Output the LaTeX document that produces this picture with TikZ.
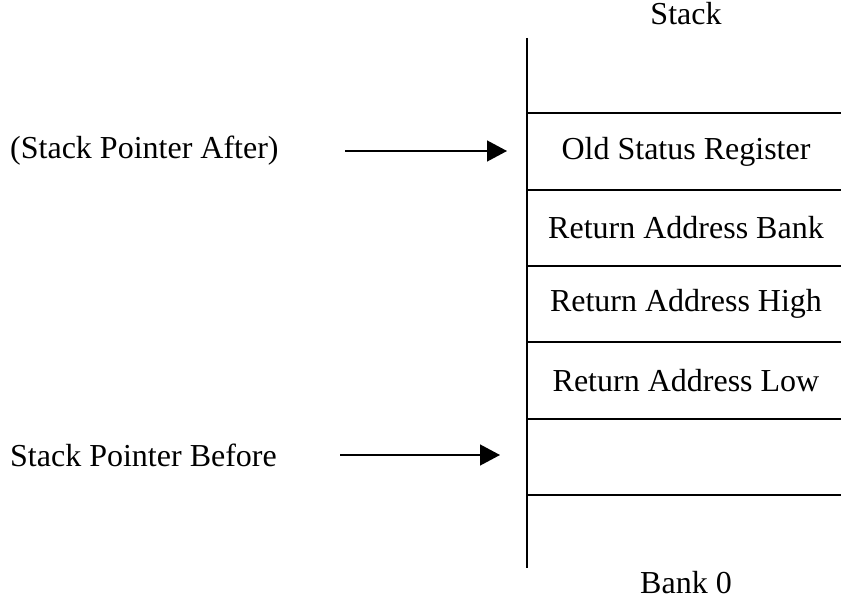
\documentclass[tikz,border=0pt]{standalone}
\usepackage{fontspec}
\setmainfont{Liberation Serif}
\usetikzlibrary{arrows.meta, positioning}

\begin{document}
\begin{tikzpicture}[
    x=1pt, y=-1pt,
    txt/.style={inner sep=0pt, font=\fontsize{32}{38}\selectfont},
    cell/.style={txt, minimum width=320pt, minimum height=76pt},
    wall/.style={line width=2pt},
    arrow/.style={-{Triangle[length=20pt, width=21pt]}, line width=1.4pt}
]
\useasboundingbox (0,0) rectangle (841,602);

% stack cells, top to bottom
\node[cell] (top) at (686,75) {};
\node[cell, below=0pt of top] (osr) {Old Status Register};
\node[cell, below=0pt of osr] (rab) {Return Address Bank};
\node[cell, below=0pt of rab] (rah) {Return Address High};
\node[cell, below=0pt of rah] (ral) {Return Address Low};
\node[cell, below=0pt of ral] (spb) {};
\node[cell, below=0pt of spb] (bot) {};

\node[txt] (stack) at (686,14) {Stack};
\node[txt] (bank) at (686,583) {Bank 0};

% stack wall and dividers
\draw[wall] (527,38) -- (527,568);
\foreach \c in {osr, rab, rah, ral, spb, bot}
    \draw[wall] (527,0 |- \c.north) -- (841,0 |- \c.north);

% pointers
\node[txt, anchor=west] (after) at (10,151) {(Stack Pointer After)};
\node[txt, anchor=west] (before) at (10,455) {Stack Pointer Before};
\coordinate (afterA) at (345,151);
\coordinate (afterB) at (507,151);
\coordinate (beforeA) at (340,455);
\coordinate (beforeB) at (500,455);
\draw[arrow] (afterA) -- (afterB);
\draw[arrow] (beforeA) -- (beforeB);

\end{tikzpicture}
\end{document}
